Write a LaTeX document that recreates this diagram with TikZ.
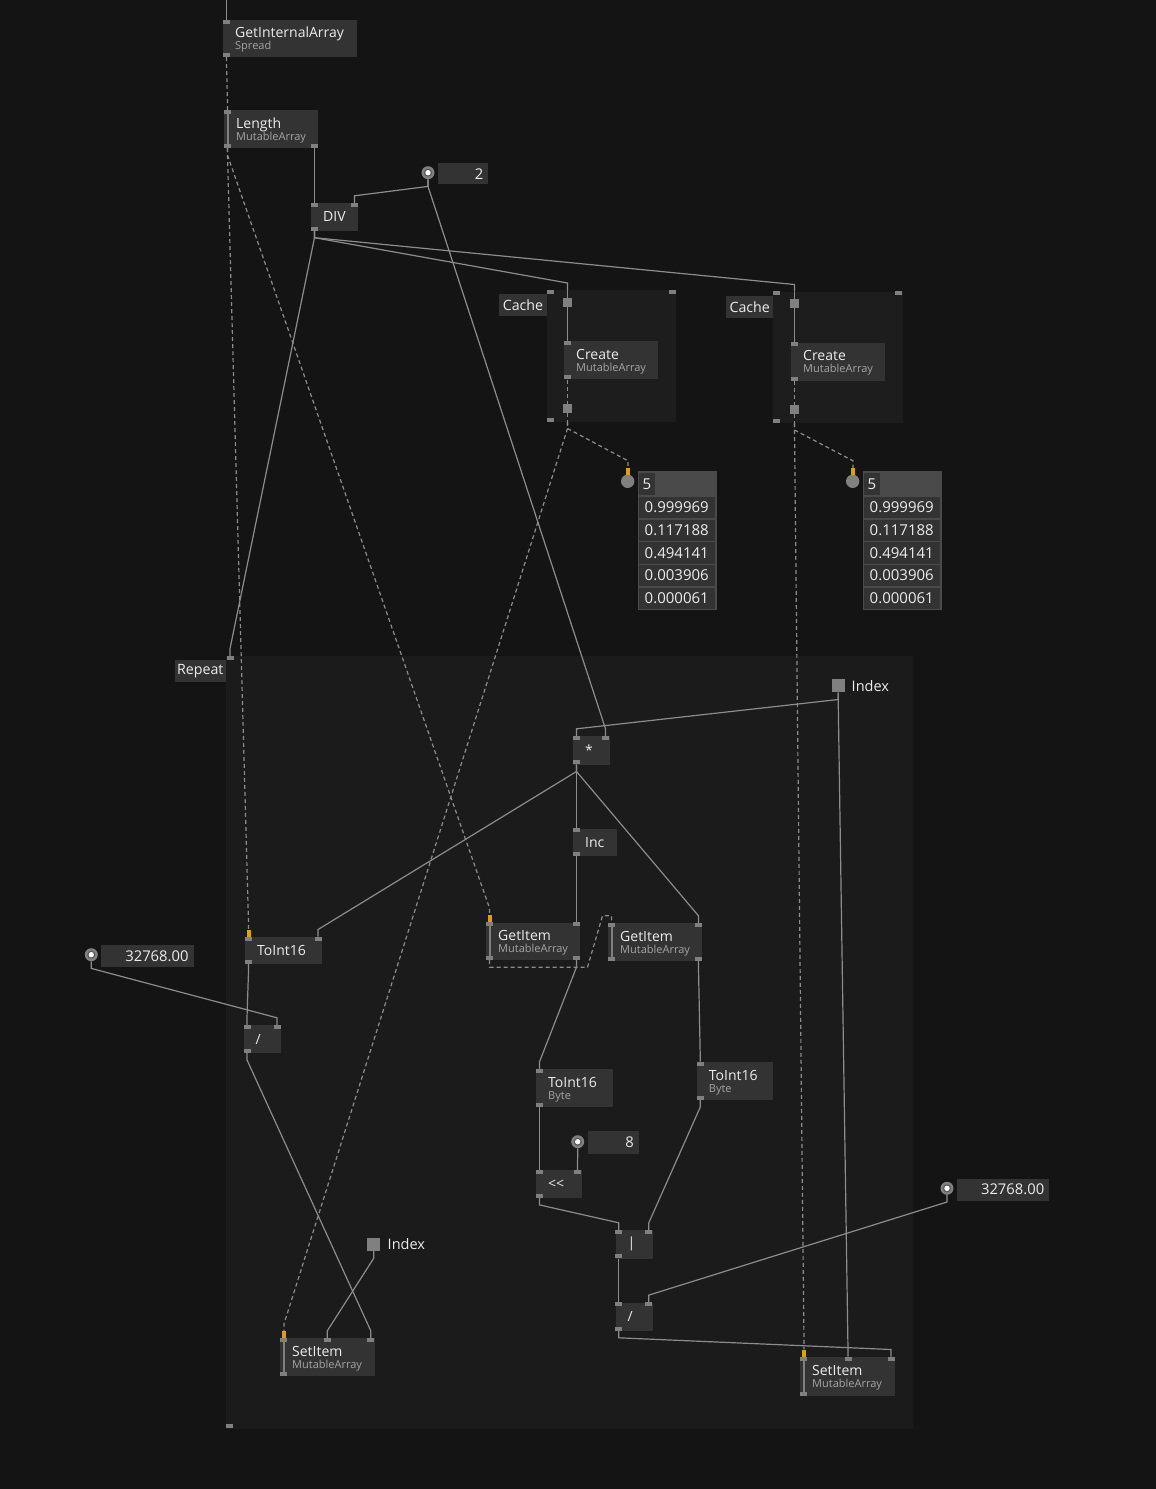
\documentclass[tikz,border=0pt]{standalone}
\usepackage{fontspec}
\setmainfont{Open Sans}
\usetikzlibrary{calc}
\hyphenpenalty=10000

\definecolor{bgc}{HTML}{141414}
\definecolor{regc}{HTML}{1B1B1B}
\definecolor{cachec}{HTML}{1D1D1D}
\definecolor{boxc}{HTML}{333333}
\definecolor{framec}{HTML}{4A4A4A}
\definecolor{portc}{HTML}{808080}
\definecolor{knobc}{HTML}{555555}
\definecolor{wirec}{HTML}{8C8C8C}
\definecolor{txtc}{HTML}{ECECEC}
\definecolor{subc}{HTML}{A4A4A4}
\definecolor{sprc}{HTML}{E0A000}

\newcommand{\subline}[1]{{\fontsize{11}{12}\selectfont\color{subc}#1}}
\newcommand{\twoline}[2]{\rule{0pt}{13.2pt}#1\\\subline{#2}}

\tikzset{
  vnode/.style={fill=boxc, anchor=north west, inner xsep=12pt, inner ysep=0pt, align=left, text=txtc, font=\fontsize{14}{12}\selectfont},
  region/.style={fill=#1, anchor=north west, inner sep=0pt},
  tag/.style={fill=boxc, anchor=north west, inner sep=0pt, minimum height=22pt, text=txtc, font=\fontsize{14.2}{15}\selectfont},
  port/.style={fill=portc, minimum width=7pt, minimum height=4pt, inner sep=0pt},
  spr/.style={fill=sprc, minimum width=4pt, minimum height=7pt, inner sep=0pt},
  csq/.style={fill=portc, minimum size=9pt, inner sep=0pt},
  idx/.style={fill=portc, minimum size=13pt, inner sep=0pt},
  itxt/.style={anchor=west, inner sep=0pt, text=txtc, font=\fontsize{14.5}{15}\selectfont},
  knob/.style={circle, fill=portc, minimum size=13pt, inner sep=0pt, path picture={\fill[knobc] (path picture bounding box.center) circle (4pt); \fill[white] (path picture bounding box.center) circle (2.7pt);}},
  sknob/.style={circle, fill=portc, minimum size=13.4pt, inner sep=0pt},
  valbox/.style={fill=boxc, anchor=north west, inner xsep=5pt, inner ysep=0pt, align=right, text=txtc, font=\fontsize{14.8}{15}\selectfont},
  cell/.style={fill=boxc, anchor=north west, inner xsep=6pt, inner ysep=0pt, minimum height=21.3pt, text width=64.5pt, align=left, text=txtc, font=\fontsize{15}{15}\selectfont},
  sline/.style={draw=wirec, line width=1.2pt},
  dline/.style={sline, dash pattern=on 4pt off 3pt},
  wire/.style={sline, to path={-- ++(0,7) -- ($(\tikztotarget)+(0,-7)$) -- (\tikztotarget)}},
  dwire/.style={wire, dash pattern=on 4pt off 3pt},
  bar/.style={draw=portc, line width=2pt}
}

\begin{document}
\begin{tikzpicture}[x=1pt, y=-1pt]
\useasboundingbox (0,0) rectangle (1156,1489);
\fill[bgc] (0,0) rectangle (1156,1489);

\node[region=regc, minimum width=686.5pt, minimum height=772.3pt] (rep) at (226,656) {};
\node[tag, minimum width=51.7pt] (rep-t) at (174.3,660) {Repeat};
\node[port] (rep-i) at (230,658) {};
\node[port] (rep-o) at (229.5,1426.3) {};

\node[region=cachec, minimum width=129pt, minimum height=131.5pt] (cacheA) at (546.5,290) {};
\node[tag, minimum width=47.5pt] (cacheA-t) at (499,294) {Cache};
\node[port] (cA-p1) at (550,292) {};
\node[port] (cA-p2) at (672,292) {};
\node[port] (cA-p3) at (550,419.5) {};
\coordinate (cacheA-in) at (567.5,290);
\coordinate (cacheA-out) at (567.5,421.5);
\node[csq] (sqA1) at (567.5,302.5) {};
\node[csq] (sqA2) at (567.5,408.3) {};

\node[region=cachec, minimum width=129.5pt, minimum height=131.5pt] (cacheB) at (773,291.5) {};
\node[tag, minimum width=47pt, minimum height=21.5pt] (cacheB-t) at (726,296) {Cache};
\node[port] (cB-p1) at (776.5,293.3) {};
\node[port] (cB-p2) at (898.5,293.3) {};
\node[port] (cB-p3) at (776.5,421) {};
\coordinate (cacheB-in) at (794.5,291.5);
\coordinate (cacheB-out) at (794.5,423);
\node[csq] (sqB1) at (794.5,303.5) {};
\node[csq] (sqB2) at (794.5,409.3) {};

\coordinate (gia-src) at (226.5,0);
\node[vnode, minimum height=37pt, text width=110pt] (gia) at (223,20) {\twoline{GetInternalArray}{Spread}};
\node[port] (gia-i) at (226.5,22) {};
\node[port] (gia-o) at (226.5,55) {};

\node[vnode, minimum height=38pt, text width=70pt] (len) at (224,110) {\twoline{Length}{MutableArray}};
\draw[bar] (227.5,112) -- (227.5,146);
\node[port] (len-i) at (227.5,112) {};
\node[port] (len-o1) at (227.5,146) {};
\node[port] (len-o2) at (314.5,146) {};

\node[knob] (io2k) at (428,172.7) {};
\node[valbox, minimum height=21.5pt, text width=40.5pt] (io2) at (437.7,162.7) {2};

\node[vnode, minimum height=27.5pt, text width=22.5pt] (div) at (311,203) {DIV};
\node[port] (div-i1) at (314.5,205) {};
\node[port] (div-i2) at (354.5,205) {};
\node[port] (div-o) at (314.5,228.5) {};

\node[vnode, minimum height=38pt, text width=69.7pt] (crA) at (564,341) {\twoline{Create}{MutableArray}};
\node[port] (crA-i) at (567.5,343) {};
\node[port] (crA-o) at (567.5,377.3) {};

\node[vnode, minimum height=38.4pt, text width=69.6pt] (crB) at (791,342.3) {\twoline{Create}{MutableArray}};
\node[port] (crB-i) at (794.5,344.3) {};
\node[port] (crB-o) at (794.5,378.7) {};

\node[sknob] (spA-k) at (627.7,481.3) {};
\node[spr] (spA-s) at (628,471.5) {};
\node[region=framec, minimum width=79.4pt, minimum height=138.7pt] (spA) at (637.3,471) {};
\node[cell, text width=8.5pt, inner xsep=4pt, minimum height=21.5pt] (spA-n) at (638.5,473) {5};
\node[cell] (spA-r1) at (638.5,496.5) {0.999969};
\node[cell] (spA-r2) at (638.5,519.3) {0.117188};
\node[cell] (spA-r3) at (638.5,542) {0.494141};
\node[cell] (spA-r4) at (638.5,564.8) {0.003906};
\node[cell] (spA-r5) at (638.5,587.5) {0.000061};

\node[sknob] (spB-k) at (852.7,481.3) {};
\node[spr] (spB-s) at (853,471.5) {};
\node[region=framec, minimum width=79.4pt, minimum height=138.7pt] (spB) at (862.3,471) {};
\node[cell, text width=8.5pt, inner xsep=4pt, minimum height=21.5pt] (spB-n) at (863.5,473) {5};
\node[cell] (spB-r1) at (863.5,496.5) {0.999969};
\node[cell] (spB-r2) at (863.5,519.3) {0.117188};
\node[cell] (spB-r3) at (863.5,542) {0.494141};
\node[cell] (spB-r4) at (863.5,564.8) {0.003906};
\node[cell] (spB-r5) at (863.5,587.5) {0.000061};

\node[idx] (idxA) at (838.2,685.8) {};
\node[itxt] (idxA-t) at (851.5,685.8) {Index};

\node[vnode, minimum height=28.3pt, text width=12.5pt] (mul) at (573,736) {*};
\node[port] (mul-i1) at (576.5,738) {};
\node[port] (mul-i2) at (605.5,738) {};
\node[port] (mul-o) at (576.5,762.3) {};

\node[vnode, minimum height=27.4pt, text width=20pt] (inc) at (573,828.3) {Inc};
\node[port] (inc-i) at (576.5,830.3) {};
\node[port] (inc-o) at (576.5,853.7) {};

\node[vnode, minimum height=37.7pt, text width=70pt] (giA) at (486,922.3) {\twoline{GetItem}{MutableArray}};
\draw[bar] (489.5,924.3) -- (489.5,958);
\node[spr] (giA-s) at (489.5,918.8) {};
\node[port] (giA-i1) at (489.5,924.3) {};
\node[port] (giA-i2) at (576.5,924.3) {};
\node[port] (giA-o1) at (489.5,958) {};
\node[port] (giA-o2) at (576.5,958) {};

\node[vnode, minimum height=38pt, text width=70pt] (giB) at (608,923) {\twoline{GetItem}{MutableArray}};
\draw[bar] (611.5,925) -- (611.5,959);
\node[port] (giB-i1) at (611.5,925) {};
\node[port] (giB-i2) at (698.5,925) {};
\node[port] (giB-o1) at (611.5,959) {};
\node[port] (giB-o2) at (698.5,959) {};

\node[vnode, minimum height=27.3pt, text width=52.7pt] (toi) at (245,936.7) {ToInt16};
\node[spr] (toi-s) at (248.5,933.2) {};
\node[port] (toi-i1) at (248.5,938.7) {};
\node[port] (toi-i2) at (318,938.7) {};
\node[port] (toi-o) at (248.5,962) {};

\node[knob] (ioLk) at (91.3,954.7) {};
\node[valbox, minimum height=21.3pt, text width=82.3pt] (ioL) at (101,945) {32768.00};

\node[vnode, minimum height=27.7pt, text width=13.2pt] (divL) at (243.5,1025) {/};
\node[port] (divL-i1) at (247,1027) {};
\node[port] (divL-i2) at (277,1027) {};
\node[port] (divL-o) at (247,1050.7) {};

\node[idx] (idxB) at (373.8,1244.4) {};
\node[itxt] (idxB-t) at (387.5,1244.4) {Index};

\node[vnode, minimum height=38pt, text width=70.3pt] (setA) at (280,1338) {\twoline{SetItem}{MutableArray}};
\draw[bar] (283.5,1340) -- (283.5,1374);
\node[spr] (setA-s) at (284,1334.5) {};
\node[port] (setA-i1) at (283.5,1340) {};
\node[port] (setA-i2) at (327.3,1340) {};
\node[port] (setA-i3) at (370.8,1340) {};
\node[port] (setA-o) at (283.5,1374) {};

\node[vnode, minimum height=37.7pt, text width=52.3pt] (tbA) at (536,1069) {\twoline{ToInt16}{Byte}};
\node[port] (tbA-i) at (539.5,1071) {};
\node[port] (tbA-o) at (539.5,1104.7) {};

\node[knob] (io8k) at (577.7,1141.7) {};
\node[valbox, minimum height=22.3pt, text width=41.3pt] (io8) at (587.3,1131) {8};

\node[vnode, minimum height=27.7pt, text width=21.7pt] (shl) at (536,1170) {<{}<};
\node[port] (shl-i1) at (539.5,1172) {};
\node[port] (shl-i2) at (577.5,1172) {};
\node[port] (shl-o) at (539.5,1195.7) {};

\node[vnode, minimum height=38.3pt, text width=52pt] (tbB) at (696.7,1061.7) {\twoline{ToInt16}{Byte}};
\node[port] (tbB-i) at (700.2,1063.7) {};
\node[port] (tbB-o) at (700.2,1098) {};

\node[vnode, minimum height=28.3pt, text width=13pt] (bor) at (615.3,1230) {|};
\node[port] (bor-i1) at (618.8,1232) {};
\node[port] (bor-i2) at (648.8,1232) {};
\node[port] (bor-o) at (618.8,1256.3) {};

\node[vnode, minimum height=28.3pt, text width=13pt] (divR) at (615.3,1302.3) {/};
\node[port] (divR-i1) at (618.8,1304.3) {};
\node[port] (divR-i2) at (648.8,1304.3) {};
\node[port] (divR-o) at (618.8,1328.6) {};

\node[knob] (ioRk) at (947,1188.3) {};
\node[valbox, minimum height=22.3pt, text width=82.3pt] (ioR) at (956.7,1178.3) {32768.00};

\node[vnode, minimum height=39pt, text width=71pt] (setB) at (800,1356.7) {\twoline{SetItem}{MutableArray}};
\draw[bar] (803.5,1358.7) -- (803.5,1393.7);
\node[spr] (setB-s) at (804,1353) {};
\node[port] (setB-i1) at (803.5,1358.7) {};
\node[port] (setB-i2) at (848,1358.7) {};
\node[port] (setB-i3) at (891,1358.7) {};
\node[port] (setB-o) at (803.5,1393.7) {};

\draw[sline] (gia-src) -- (gia-i.north);
\draw[dwire] (gia-o.south) to (len-i.north);
\draw[dwire] (len-o1.south) to (toi-s.north);
\draw[dwire] (len-o1.south) to (giA-s.north);
\draw[wire] (len-o2.south) to (div-i1.north);
\draw[wire] (io2k.south) to (div-i2.north);
\draw[wire] (io2k.south) to (mul-i2.north);
\draw[wire] (div-o.south) to (rep-i.north);
\draw[wire] (div-o.south) to (cacheA-in);
\draw[wire] (div-o.south) to (cacheB-in);

\draw[sline] (cacheA-in) -- (sqA1.north);
\draw[sline] (sqA1.south) -- (crA-i.north);
\draw[dline] (crA-o.south) -- (sqA2.north);
\draw[dline] (sqA2.south) -- (cacheA-out);
\draw[sline] (cacheB-in) -- (sqB1.north);
\draw[sline] (sqB1.south) -- (crB-i.north);
\draw[dline] (crB-o.south) -- (sqB2.north);
\draw[dline] (sqB2.south) -- (cacheB-out);
\draw[dwire] (cacheA-out) to (spA-s.north);
\draw[dwire] (cacheA-out) to (setA-s.north);
\draw[dwire] (cacheB-out) to (spB-s.north);
\draw[dwire] (cacheB-out) to (setB-s.north);

\draw[wire] (idxA.south) to (mul-i1.north);
\draw[wire] (idxA.south) to (setB-i2.north);
\draw[wire] (mul-o.south) to (inc-i.north);
\draw[wire] (mul-o.south) to (toi-i2.north);
\draw[wire] (mul-o.south) to (giB-i2.north);
\draw[wire] (inc-o.south) to (giA-i2.north);
\draw[dline] (giA-o1.south) -- ++(0,7) -- ++(98,0) -- ($(giB-i1.north)+(-9,-7)$) -- ($(giB-i1.north)+(0,-7)$) -- (giB-i1.north);
\draw[wire] (giA-o2.south) to (tbA-i.north);
\draw[wire] (giB-o2.south) to (tbB-i.north);

\draw[wire] (toi-o.south) to (divL-i1.north);
\draw[wire] (ioLk.south) to (divL-i2.north);
\draw[wire] (divL-o.south) to (setA-i3.north);
\draw[wire] (idxB.south) to (setA-i2.north);
\draw[wire] (tbA-o.south) to (shl-i1.north);
\draw[wire] (io8k.south) to (shl-i2.north);
\draw[wire] (shl-o.south) to (bor-i1.north);
\draw[wire] (tbB-o.south) to (bor-i2.north);
\draw[wire] (bor-o.south) to (divR-i1.north);
\draw[wire] (ioRk.south) to (divR-i2.north);
\draw[wire] (divR-o.south) to (setB-i3.north);
\end{tikzpicture}
\end{document}
